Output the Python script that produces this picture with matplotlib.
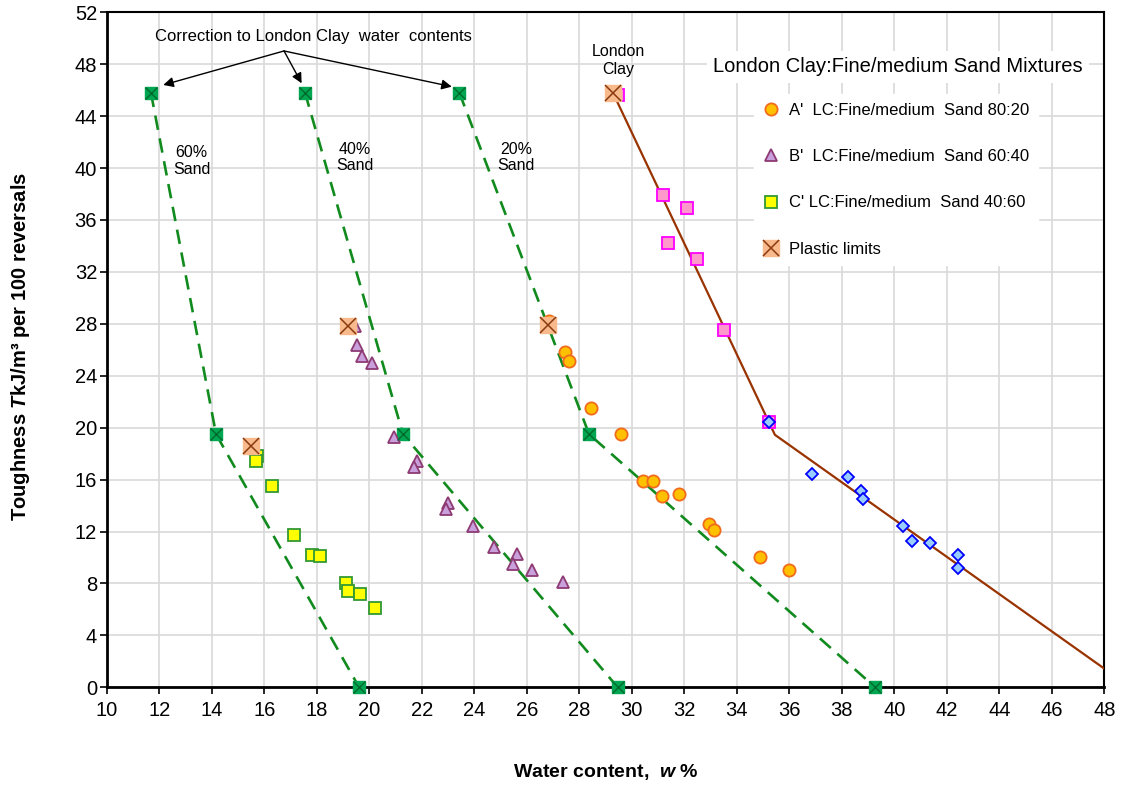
#!/usr/bin/env python3
"""Toughness against water content for London Clay : fine/medium sand mixtures."""

import matplotlib

matplotlib.use("Agg")

import matplotlib.pyplot as plt
from matplotlib.legend_handler import HandlerTuple

plt.rcParams["font.family"] = ["Liberation Sans", "DejaVu Sans"]
plt.rcParams["mathtext.fontset"] = "custom"
plt.rcParams["mathtext.rm"] = "Liberation Sans"
plt.rcParams["mathtext.it"] = "Liberation Sans:italic"
plt.rcParams["mathtext.bf"] = "Liberation Sans:bold"
plt.rcParams["mathtext.bfit"] = "Liberation Sans:italic:bold"

# A' LC:Fine/medium Sand 80:20
a_w = [26.85, 27.46, 27.62, 28.46, 29.59, 30.44, 30.81, 31.14, 31.80, 32.95, 33.13, 34.88, 36.00]
a_t = [28.2, 25.8, 25.1, 21.5, 19.5, 15.9, 15.9, 14.7, 14.9, 12.6, 12.1, 10.0, 9.0]

# B' LC:Fine/medium Sand 60:40
b_w = [19.45, 19.54, 19.73, 20.11, 20.94, 21.83, 21.71, 23.01, 22.92, 23.94, 24.75, 25.64, 25.49, 26.20, 27.37]
b_t = [27.8, 26.4, 25.5, 25.0, 19.3, 17.4, 17.0, 14.2, 13.7, 12.4, 10.8, 10.3, 9.5, 9.0, 8.1]

# C' LC:Fine/medium Sand 40:60
c_w = [15.71, 15.68, 16.28, 17.12, 17.80, 18.11, 19.10, 19.20, 19.63, 20.20]
c_t = [17.8, 17.4, 15.5, 11.7, 10.2, 10.1, 8.0, 7.4, 7.2, 6.1]

# London Clay (pure) results
lc_w = [29.49, 31.18, 32.10, 31.37, 32.48, 33.52, 35.23]
lc_t = [45.6, 37.9, 36.9, 34.2, 33.0, 27.5, 20.4]
lc_wet_w = [35.24, 36.85, 38.25, 38.73, 38.81, 40.33, 40.68, 41.35, 42.44, 42.42]
lc_wet_t = [20.4, 16.4, 16.2, 15.1, 14.5, 12.4, 11.3, 11.1, 10.2, 9.2]

# bilinear London Clay fit
lc_line_w = [29.28, 35.45, 49.00]
lc_line_t = [45.8, 19.45, 0.0]

# London Clay line corrected for sand content
corr_t = [45.8, 19.5, 0.0]
corr60_w = [11.68, 14.16, 19.61]
corr40_w = [17.55, 21.28, 29.46]
corr20_w = [23.43, 28.37, 39.27]

# plastic limits
pl_w = [29.28, 26.80, 19.20, 15.48]
pl_t = [45.8, 27.9, 27.8, 18.55]

legend_labels = [
    "A'  LC:Fine/medium  Sand 80:20",
    "B'  LC:Fine/medium  Sand 60:40",
    "C' LC:Fine/medium  Sand 40:60",
    "Plastic limits",
]

GREEN = "#118A1E"
BROWN = "#993300"
PL_FILL = "#F8B98C"


def main() -> None:
    fig = plt.figure(figsize=(11.27, 7.87), dpi=100)
    ax = fig.add_axes([0.0948, 0.1267, 0.8851, 0.8577])

    for ws in (corr60_w, corr40_w, corr20_w):
        ax.plot(ws, corr_t, color=GREEN, lw=1.9, ls=(0, (5.5, 3.3)), zorder=3)
        ax.plot(ws, corr_t, ls="none", marker="s", ms=8, mfc="#00A651", mec="#00A651", zorder=4,
                clip_on=False)
        ax.plot(ws, corr_t, ls="none", marker="x", ms=8, mec="#006B2C", mew=1.0, zorder=5,
                clip_on=False)

    ax.plot(lc_line_w, lc_line_t, color=BROWN, lw=1.6, zorder=3)

    ax.plot(lc_w, lc_t, ls="none", marker="s", ms=8, mfc="#FF99CC", mec="#FF00FF", mew=1.3, zorder=4)
    ax.plot(lc_wet_w, lc_wet_t, ls="none", marker="D", ms=6, mfc="#99CCFF", mec="#0000FF", mew=1.3,
            zorder=5)

    h_a, = ax.plot(a_w, a_t, ls="none", marker="o", ms=8.8, mfc="#FFC000", mec="#F26B1D", mew=1.3, zorder=4)
    h_b, = ax.plot(b_w, b_t, ls="none", marker="^", ms=9, mfc="#C9A0DC", mec="#8E3A73", mew=1.3, zorder=4)
    h_c, = ax.plot(c_w, c_t, ls="none", marker="s", ms=8, mfc="#FFFF00", mec="#339933", mew=1.3, zorder=4)

    h_pl_sq, = ax.plot(pl_w, pl_t, ls="none", marker="s", ms=11, mfc=PL_FILL, mec=PL_FILL, zorder=6)
    h_pl_x, = ax.plot(pl_w, pl_t, ls="none", marker="x", ms=11, mec="#8B3A0E", mew=1.1, zorder=7)

    # annotations
    ax.text(17.88, 50.1, "Correction to London Clay  water  contents", ha="center", va="center",
            fontsize=12)
    for tx, ty in [(12.15, 46.4), (17.42, 46.53), (23.14, 46.27)]:
        ax.annotate("", xy=(tx, ty), xytext=(16.75, 49.02),
                    arrowprops=dict(arrowstyle="-|>", color="black", lw=1.0, mutation_scale=15,
                                    shrinkA=0, shrinkB=0))
    ax.text(13.23, 40.55, "60%\nSand", ha="center", va="center", fontsize=11.5, linespacing=1.15)
    ax.text(19.46, 40.82, "40%\nSand", ha="center", va="center", fontsize=11.5, linespacing=1.15)
    ax.text(25.59, 40.82, "20%\nSand", ha="center", va="center", fontsize=11.5, linespacing=1.15)
    ax.text(29.47, 48.3, "London\nClay", ha="center", va="center", fontsize=11.5, linespacing=1.3)

    ax.set_xlim(10, 48)
    ax.set_ylim(0, 52)
    ax.set_xticks(range(10, 49, 2))
    ax.set_yticks(range(0, 53, 4))
    ax.grid(True, color="#D9D9D9", lw=1.2)
    ax.set_axisbelow(True)
    ax.tick_params(axis="both", direction="out", length=5, width=1.2, color="black", labelsize=14.5)
    ax.tick_params(axis="x", pad=5)
    ax.tick_params(axis="y", pad=2)
    for side in ("left", "bottom"):
        ax.spines[side].set_linewidth(2.0)
    for side in ("right", "top"):
        ax.spines[side].set_linewidth(1.5)

    ax.set_xlabel(r"Water content,  $\mathbfit{w}$ %", fontsize=14, fontweight="bold")
    ax.xaxis.set_label_coords(0.5, -0.11)
    ax.set_ylabel(r"Toughness $\mathbfit{T}$kJ/m³ per 100 reversals", fontsize=14.5, fontweight="bold")
    ax.yaxis.set_label_coords(-0.075, 0.505)

    leg = ax.legend([h_a, h_b, h_c, (h_pl_sq, h_pl_x)], legend_labels,
                    handler_map={tuple: HandlerTuple(ndivide=1, pad=0)},
                    loc="upper left", bbox_to_anchor=(746 / 1127, 1 - 86 / 787),
                    bbox_transform=fig.transFigure, fontsize=12, labelspacing=1.88,
                    handlelength=1.0, handletextpad=0.6, borderpad=0.5, markerscale=1.0,
                    frameon=True, fancybox=False, framealpha=1.0, edgecolor="white")
    leg.set_zorder(10)

    fig.text(898 / 1127, 1 - 67 / 787, "London Clay:Fine/medium Sand Mixtures", ha="center", va="center",
             fontsize=14.5, zorder=11,
             bbox=dict(boxstyle="square,pad=0.3", fc="white", ec="none"))

    fig.savefig("out.png", dpi=100)
    plt.close(fig)


if __name__ == "__main__":
    main()
